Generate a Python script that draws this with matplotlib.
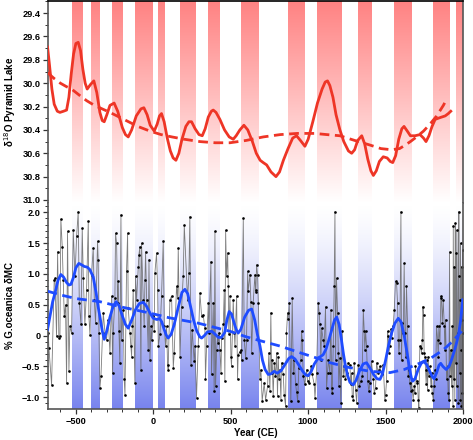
import matplotlib

matplotlib.use("Agg")
import matplotlib.pyplot as plt
import numpy as np
from matplotlib.colors import LinearSegmentedColormap
from matplotlib.ticker import MultipleLocator

plt.rcParams["font.family"] = ["Liberation Sans", "DejaVu Sans"]

# shaded intervals (years CE), shared by both panels
BAND_START = [-528, -405, -267, -119, 28, 172, 351, 566, 867, 1055, 1320, 1554, 1804, 1955]
BAND_END = [-457, -351, -198, -7, 73, 275, 424, 682, 973, 1212, 1406, 1670, 1910, 2000]

# Pyramid Lake d18O, smoothed record
PL_YEAR = [-683, -670, -655, -640, -620, -603, -580, -560, -545, -530, -515, -500, -485, -470,
           -455, -440, -427, -405, -384, -365, -345, -330, -317, -300, -280, -253, -230, -200,
           -180, -162, -140, -110, -80, -61, -40, -20, 6, 25, 40, 53, 70, 90, 110, 128, 146,
           165, 185, 210, 230, 247, 270, 295, 316, 335, 355, 375, 387, 405, 430, 460, 490, 516,
           535, 559, 585, 610, 640, 665, 690, 710, 732, 760, 792, 815, 840, 870, 900, 925, 950,
           979, 1000, 1030, 1060, 1090, 1110, 1125, 1140, 1160, 1180, 1205, 1230, 1260, 1281,
           1300, 1320, 1346, 1365, 1385, 1405, 1421, 1440, 1460, 1485, 1510, 1530, 1546, 1565,
           1585, 1605, 1619, 1640, 1660, 1690, 1722, 1745, 1761, 1780, 1800, 1820, 1840, 1862,
           1885, 1905, 1921]
PL_D18O = [29.69, 29.85, 30.05, 30.18, 30.24, 30.25, 30.24, 30.23, 30.12, 29.92, 29.75, 29.66,
           29.65, 29.72, 29.88, 30.00, 30.05, 30.01, 29.98, 30.08, 30.25, 30.32, 30.33, 30.27,
           30.19, 30.17, 30.24, 30.38, 30.44, 30.46, 30.40, 30.28, 30.22, 30.21, 30.27, 30.36,
           30.41, 30.35, 30.28, 30.26, 30.33, 30.47, 30.58, 30.64, 30.66, 30.60, 30.48, 30.37,
           30.33, 30.33, 30.39, 30.44, 30.45, 30.39, 30.29, 30.24, 30.23, 30.25, 30.31, 30.40,
           30.46, 30.48, 30.45, 30.40, 30.36, 30.40, 30.50, 30.60, 30.66, 30.68, 30.70, 30.76,
           30.80, 30.76, 30.66, 30.56, 30.47, 30.45, 30.49, 30.54, 30.48, 30.33, 30.17, 30.05,
           29.99, 29.98, 30.02, 30.12, 30.27, 30.40, 30.50, 30.58, 30.60, 30.57, 30.49, 30.45,
           30.52, 30.65, 30.75, 30.79, 30.75, 30.67, 30.63, 30.64, 30.67, 30.68, 30.62, 30.48,
           30.39, 30.37, 30.41, 30.45, 30.45, 30.44, 30.47, 30.50, 30.45, 30.37, 30.31, 30.30,
           30.29, 30.28, 30.26, 30.24]

# Pyramid Lake long-term trend
PL_TREND_YEAR = [-683, -640, -600, -560, -528, -480, -430, -380, -330, -280, -220, -160, -100,
                 -22, 50, 120, 200, 301, 400, 495, 600, 710, 820, 930, 1042, 1120, 1205, 1300,
                 1400, 1470, 1540, 1590, 1627, 1660, 1700, 1745, 1787, 1830, 1873, 1885]
PL_TREND = [29.91, 29.96, 30.00, 30.03, 30.05, 30.10, 30.15, 30.19, 30.22, 30.25, 30.29, 30.33,
            30.37, 30.41, 30.44, 30.46, 30.48, 30.50, 30.51, 30.51, 30.49, 30.46, 30.44, 30.43,
            30.43, 30.44, 30.45, 30.49, 30.53, 30.56, 30.57, 30.56, 30.53, 30.50, 30.46, 30.41,
            30.35, 30.28, 30.19, 30.16]

# % G. oceanica dMC, raw samples
GO_YEAR = [-689, -678, -674, -657, -640, -635, -625, -618, -610, -603, -597, -588, -582, -575,
           -567, -560, -554, -545, -539, -528, -517, -506, -495, -485, -478, -467, -459, -452,
           -442, -431, -420, -416, -409, -399, -388, -381, -373, -360, -356, -351, -345, -338,
           -323, -312, -302, -291, -280, -269, -263, -259, -248, -244,
           -237, -231, -226, -222, -216, -209, -205, -194, -188, -183, -173, -166, -162, -151,
           -145, -140, -136, -130, -119, -115, -108, -97, -93, -87, -80, -76, -65, -59, -54,
           -50, -43, -33, -28, -22, -15, -11, 0, 6, 10, 21, 28, 32, 43, 53, 64, 71, 79, 86, 92,
           96, 107, 118, 129, 135, 150, 157, 161, 172, 183, 193, 200,
           221, 230, 236, 243, 251, 264, 269, 279, 290, 301, 312, 322, 333, 337, 344, 355, 359,
           372, 376, 387, 393, 398, 402, 409, 415, 419, 423, 430, 437, 441, 452, 458, 462, 467,
           473, 480, 484, 488, 495, 501, 505, 516, 523, 527, 538, 544, 548, 559, 566, 570, 581,
           587, 596, 602, 609, 613, 624, 630, 635, 645, 656, 660,
           662, 667, 673, 678, 688, 695, 703, 716, 725, 738, 746, 753, 759, 764, 768, 774, 781,
           789, 796, 802, 807, 811, 817, 824, 828, 839, 845, 854, 860, 867, 871, 878, 888, 897,
           904, 910, 919, 925, 932, 940, 953, 957, 962, 968, 979, 990, 996, 1005, 1018, 1026,
           1039, 1044, 1054, 1065, 1071, 1076, 1082, 1087, 1097, 1104, 1112,
           1119, 1125, 1130, 1140, 1147, 1151, 1155, 1162, 1168, 1173, 1177, 1183, 1190, 1194,
           1198, 1205, 1211, 1220, 1226, 1233, 1241, 1248, 1259, 1269, 1276, 1280, 1285, 1291,
           1297, 1306, 1313, 1323, 1330, 1340, 1349, 1356, 1362, 1366, 1371, 1377, 1384, 1392,
           1399, 1409, 1420, 1427, 1435, 1442, 1452, 1457, 1463, 1474, 1485, 1495, 1500, 1506,
           1513, 1517, 1521, 1528, 1534, 1539, 1549, 1556, 1564,
           1571, 1577, 1582, 1586, 1592, 1599, 1603, 1607, 1614, 1620, 1625, 1629, 1635, 1642,
           1646, 1650, 1657, 1663, 1668, 1672, 1678, 1685, 1689, 1693, 1700, 1706, 1711, 1715,
           1721, 1728, 1732, 1737, 1741, 1745, 1749, 1754, 1758, 1762, 1767, 1771, 1775, 1780,
           1786, 1793, 1797, 1801, 1808, 1814, 1818, 1823, 1829, 1836, 1840, 1844, 1851, 1857,
           1861, 1866, 1872, 1879, 1883, 1887, 1894, 1900, 1904, 1909, 1913, 1917, 1922, 1926,
           1930, 1935, 1937, 1941, 1943, 1947, 1950, 1952, 1956, 1958, 1960, 1965, 1969, 1971,
           1973, 1978, 1980, 1982, 1984, 1986, 1988, 1991, 1993, 1995, 1997, 1999]
GO_VAL = [0.01, 0.04, -0.20, -0.80, 0.90, 0.93, -0.01, 1.36, -0.04, 0.00, 1.89, 1.44, 0.90, 0.31,
          0.50, -0.77, 1.69, -0.58, 0.15, 0.04, 1.71, 0.96, 1.62, 2.01, 0.53, 0.18, 1.74, 0.93,
          0.18, 0.74, 1.85, 0.31, 0.01, 0.99, 1.42, 0.58, 0.20, 1.53, 1.23, 0.04, -0.85, -0.66,
          0.37, 0.04, -0.07, 0.26, -0.28, 0.64, -0.61, 0.04, 0.61, 1.66,
          1.50, 0.53, 0.88, 0.07, -0.44, 1.96, -0.07, 0.42, -0.71, -0.96, 1.04, 1.66, 0.45, 0.04,
          -0.17, -0.34, 0.15, 0.74, -0.77, 0.96, 0.58, 1.12, 1.31, 1.44, -0.55, 1.50, 0.58, 0.15,
          0.90, 1.36, 0.58, -0.23, 1.23, -0.39, 0.15, -0.07, 0.31, 0.07, 1.01, 1.34, 0.74, -0.17,
          0.02, 0.64, 1.53, 0.15, -0.17, 0.15, -0.47, -0.55, 0.58, 0.64, -0.52, -0.28, 0.80,
          0.61, 1.42, -0.34, 0.47, 0.96, 1.79,
          0.58, 1.01, 1.93, -0.47, 0.09, -0.42, -0.17, -1.01, -0.17, 0.69, 0.31, 0.34, 0.12,
          -0.71, -0.17, 0.53, 0.04, 1.20, -0.63, 0.53, -0.90, 1.69, -0.82, -0.23, -0.01, -0.12,
          0.04, -0.23, -0.61, -0.04, 0.18, 0.74, -0.74, 1.71, 0.96, 1.34, 0.80, 0.02, 0.64,
          -0.34, -0.50, 0.58, 0.04, -0.17, 0.64, -0.71, -0.31, -0.26, -0.23, -0.39, 1.90, -0.07,
          -0.36, -0.07, 1.04, 0.72, 0.99, 0.55, -0.28, 0.53, 0.99, 0.74,
          0.71, 1.15, 0.99, 0.53, -0.71, -0.55, -1.06, -0.77, -1.04, -0.82, -0.28, -0.90, 0.37,
          -0.61, -0.39, -0.98, -0.44, -0.66, -0.28, -0.98, -0.34, -0.71, -0.55, -1.04, -0.44,
          -0.63, -0.96, -1.14, 0.04, 0.37, 0.27, 0.53, -1.06, 0.61, -0.61, -0.39, -0.79, -0.92,
          -1.06, -0.52, -0.39, 0.07, -0.07, -0.66, -0.79, -0.55, -0.74, -0.77, -0.50, -0.63,
          -0.79, -1.01, -0.61, 0.53, 0.37, 0.18, -0.39, 0.12, -0.07, -0.17, 0.47,
          -0.85, -0.61, -0.39, -0.61, 0.42, -0.85, -0.93, -0.17, 0.80, 2.01, -0.39, 0.93, 0.37,
          -0.28, -0.82, -0.36, -1.09, 0.07, -0.66, -0.50, -0.71, -0.61, -0.44, -0.47, -0.79,
          -0.61, -0.98, -1.04, -0.44, -0.88, -1.09, -0.47, -0.82, -0.74, -0.66, 0.42, 0.07,
          -0.23, 0.07, -0.17, -0.74, -0.90, -0.77, -0.42, -0.71, -0.93, -0.85, -0.44, -0.61,
          -0.55, -0.50, -0.63, -0.47, -1.04, -0.96, -0.74, 0.07, -0.01, -0.28, -0.17, 0.10,
          -0.04, 0.15, 0.42, 0.88,
          0.85, 0.53, -0.07, -0.28, -0.07, 2.01, -0.39, 0.20, 0.04, 1.17, 0.04, -0.34, 0.80,
          0.15, -0.66, -0.55, -0.77, -0.90, -0.71, -0.88, -1.04, -0.82, -0.93, -0.50, -0.74,
          -0.77, -1.04, -1.17, -0.17, -0.20, -0.28, -0.07, 0.47, 0.34, -0.28, -0.34, -0.55,
          -0.79, -0.39, -0.88, -0.34, -0.66, -0.50, -0.82, -0.61, -0.93, -1.04, -0.82, -0.55,
          -0.71, 0.15, -0.07, -0.34, 0.15, -0.12, 0.64, 0.61, 0.20, 0.58, 0.15, -0.23, 0.26,
          -0.71, -0.50, -0.93, -1.04, 1.36, -0.66, -0.23, -0.82, 0.15, -1.14, 1.77, -0.71, 1.12,
          -1.04, 1.82, -0.44, 1.34, -0.82, 1.71, 0.04, -1.09, 0.96, 2.01, -0.61, 0.58, -1.04,
          1.50, -0.23, -1.14, 1.12, 0.26, -0.93, 1.39, 0.04]

# % G. oceanica smoothed record
GO_SM_YEAR = [-683, -665, -650, -634, -615, -597, -580, -560, -545, -532, -515, -500, -481, -465,
              -445, -427, -410, -388, -370, -355, -345, -330, -317, -300, -280, -260, -240, -220,
              -200, -180, -162, -140, -115, -90, -65, -45, -20, 0, 11, 25, 40, 55, 70, 85, 96,
              115, 135, 160, 185, 204, 222, 240, 260, 280, 300, 312, 330, 350, 377, 400, 420,
              440, 461, 475, 490, 505, 520, 535, 548, 565, 590, 615, 635, 655, 672, 689, 705,
              722, 742, 760, 780, 800, 825, 850, 875, 893, 915, 940, 965, 985, 1001, 1020, 1040,
              1065, 1080, 1097, 1115, 1135, 1155, 1170, 1184, 1200, 1215, 1228, 1240, 1255, 1270,
              1291, 1310, 1330, 1355, 1377, 1400, 1425, 1445, 1464, 1480, 1500, 1520, 1540, 1560,
              1582, 1600, 1620, 1640, 1655, 1668, 1675, 1690, 1710, 1730, 1748, 1765, 1785, 1800,
              1813, 1830, 1845, 1856, 1870, 1891, 1910, 1925, 1940, 1955, 1970, 1985, 1998]
GO_SM = [0.10, 0.35, 0.55, 0.70, 0.90, 0.99, 0.95, 0.86, 0.82, 0.83, 0.95, 1.10, 1.17, 1.15,
         1.12, 1.11, 1.07, 0.95, 0.70, 0.45, 0.31, 0.08, -0.06, 0.08, 0.30, 0.47, 0.55, 0.48,
         0.32, 0.18, 0.12, 0.25, 0.42, 0.52, 0.54, 0.48, 0.36, 0.28, 0.27, 0.26, 0.28, 0.22,
         0.10, 0.00, -0.04, 0.02, 0.18, 0.45, 0.70, 0.75, 0.68, 0.48, 0.25, 0.08, -0.02, -0.04,
         0.00, 0.06, 0.07, 0.02, -0.03, -0.03, 0.05, 0.25, 0.39, 0.35, 0.22, 0.10, 0.04, 0.10,
         0.30, 0.41, 0.43, 0.25, 0.02, -0.17, -0.40, -0.55, -0.63, -0.62, -0.58, -0.61, -0.57,
         -0.47, -0.37, -0.34, -0.38, -0.48, -0.58, -0.64, -0.65, -0.58, -0.46, -0.36, -0.34,
         -0.31, -0.22, -0.06, 0.12, 0.25, 0.30, 0.18, -0.07, -0.30, -0.48, -0.65, -0.76, -0.80,
         -0.72, -0.58, -0.46, -0.44, -0.53, -0.64, -0.70, -0.71, -0.62, -0.40, -0.15, 0.05,
         0.20, 0.28, 0.22, 0.00, -0.30, -0.55, -0.70, -0.74, -0.70, -0.55, -0.45, -0.42, -0.47,
         -0.58, -0.66, -0.70, -0.60, -0.48, -0.45, -0.50, -0.55, -0.50, -0.40, -0.28, -0.15,
         0.00, 0.25, 0.58]

# % G. oceanica long-term trend
GO_TREND_YEAR = [-683, -600, -500, -345, -200, -30, 100, 292, 400, 495, 600, 700, 818, 950,
                 1050, 1142, 1250, 1400, 1529, 1620, 1700, 1790, 1873, 1930, 1980, 1995]
GO_TREND = [0.72, 0.66, 0.60, 0.55, 0.46, 0.37, 0.29, 0.20, 0.13, 0.07, -0.02, -0.09, -0.17,
            -0.28, -0.36, -0.44, -0.51, -0.58, -0.60, -0.55, -0.47, -0.37, -0.23, -0.10, 0.04,
            0.08]

RED = "#ee3526"
BLUE = "#1f4cff"
XLIM = (-680, 2000)
TOP_YLIM = (31.026, 29.295)
BOT_YLIM = (-1.19, 2.15)
TICK_FONT = dict(fontsize=6.6, fontweight="bold")
LABEL_FONT = dict(fontsize=7, fontweight="bold")


def shade_bands(ax, ylim, color, fade_up, power=1.0):
    cmap = LinearSegmentedColormap.from_list("band", ["white", color])
    grad = (np.linspace(0, 1, 128) ** power).reshape(-1, 1)
    if not fade_up:
        grad = grad[::-1]
    for x0, x1 in zip(BAND_START, BAND_END):
        ax.imshow(grad, extent=(x0, x1, ylim[0], ylim[1]), origin="lower", aspect="auto",
                  cmap=cmap, vmin=0, vmax=1, zorder=0, interpolation="bilinear")


def style_axis(ax):
    for side in ["left", "right", "top", "bottom"]:
        ax.spines[side].set_linewidth(1.2)
        ax.spines[side].set_color("#555555")
    ax.tick_params(axis="both", which="major", length=3.5, width=0.9, pad=2,
                   colors="#333333", labelcolor="black")
    ax.tick_params(axis="both", which="minor", length=2, width=0.7, colors="#333333")
    for lab in ax.get_xticklabels() + ax.get_yticklabels():
        lab.set_fontsize(TICK_FONT["fontsize"])
        lab.set_fontweight(TICK_FONT["fontweight"])


fig = plt.figure(figsize=(4.73, 4.40), dpi=100)
ax_top = fig.add_axes([0.1015, 0.5386, 0.8774, 0.4594])
ax_bot = fig.add_axes([0.1015, 0.0705, 0.8774, 0.4682])

# top panel: Pyramid Lake
shade_bands(ax_top, (TOP_YLIM[0], TOP_YLIM[1]), "#ff8282", fade_up=True)
ax_top.plot(PL_YEAR, PL_D18O, color=RED, lw=2.0, zorder=3)
ax_top.plot(PL_TREND_YEAR, PL_TREND, color=RED, lw=2.0, dashes=(3.5, 2.0), zorder=3)
ax_top.set_xlim(*XLIM)
ax_top.set_ylim(*TOP_YLIM)
ax_top.yaxis.set_major_locator(MultipleLocator(0.2))
ax_top.yaxis.set_minor_locator(MultipleLocator(0.1))
ax_top.yaxis.set_major_formatter(matplotlib.ticker.FormatStrFormatter("%.1f"))
ax_top.set_xticks([])
style_axis(ax_top)
ax_top.spines["top"].set_color("black")
ax_top.spines["bottom"].set_visible(False)
ax_top.set_ylabel("δ$^{18}$O Pyramid Lake", labelpad=3, **LABEL_FONT)

# bottom panel: G. oceanica
shade_bands(ax_bot, (BOT_YLIM[0], BOT_YLIM[1]), "#7884ee", fade_up=False, power=1.4)
ax_bot.plot(GO_YEAR, GO_VAL, color="#666666", lw=0.6, alpha=0.85, zorder=2)
ax_bot.plot(GO_YEAR, GO_VAL, "o", color="black", ms=1.9, mew=0, zorder=2)
ax_bot.plot(GO_SM_YEAR, GO_SM, color=BLUE, lw=2.0, zorder=3)
ax_bot.plot(GO_TREND_YEAR, GO_TREND, color=BLUE, lw=2.0, dashes=(3.5, 2.0), zorder=3)
ax_bot.set_xlim(*XLIM)
ax_bot.set_ylim(*BOT_YLIM)
ax_bot.yaxis.set_major_locator(MultipleLocator(0.5))
ax_bot.yaxis.set_minor_locator(MultipleLocator(0.1))
ax_bot.xaxis.set_major_locator(MultipleLocator(500))
ax_bot.xaxis.set_minor_locator(MultipleLocator(100))
ax_bot.yaxis.set_major_formatter(matplotlib.ticker.FuncFormatter(
    lambda v, _: "0" if abs(v) < 1e-9 else f"{v:.1f}".replace("-", "\u2212")))
ax_bot.xaxis.set_major_formatter(matplotlib.ticker.FuncFormatter(
    lambda v, _: f"{int(v)}".replace("-", "\u2212")))
style_axis(ax_bot)
ax_bot.spines["top"].set_visible(False)
ax_bot.set_ylabel("% G.oceanica δMC", labelpad=5, **LABEL_FONT)
ax_bot.set_xlabel("Year (CE)", labelpad=2, **LABEL_FONT)

fig.savefig("out.png", dpi=100)
plt.close(fig)
